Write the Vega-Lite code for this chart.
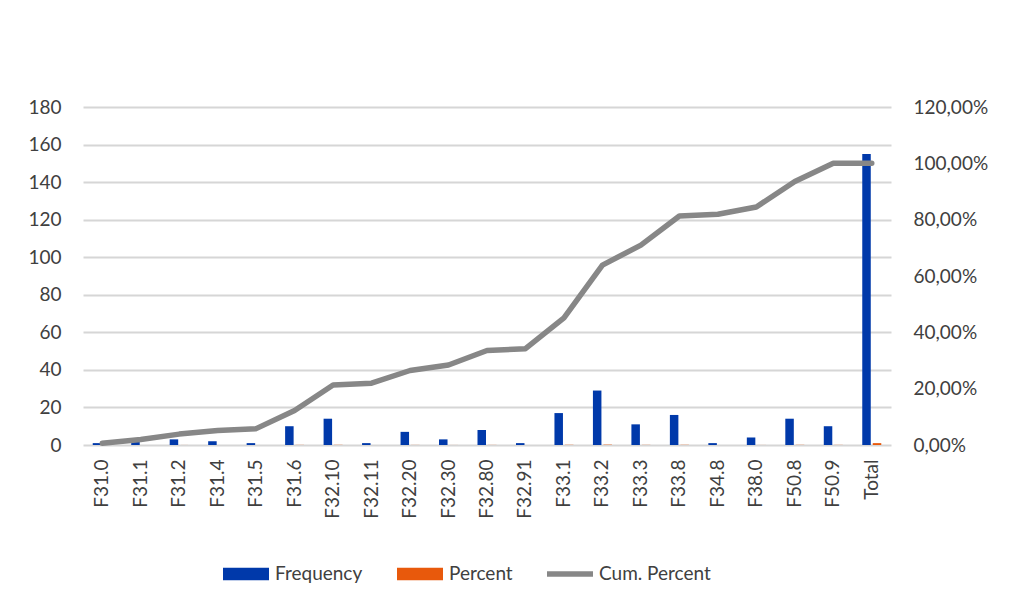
{
  "$schema": "https://vega.github.io/schema/vega-lite/v6.json",
  "width": 808,
  "height": 338,
  "autosize": "none",
  "padding": {"left": 83, "top": 107, "right": 133, "bottom": 171},
  "background": "white",
  "config": {
    "view": {"stroke": null},
    "font": "Lato",
    "axis": {"labelFont": "Lato", "labelColor": "#404040", "domain": false, "ticks": false}
  },
  "data": {
    "values": [
      {"code": "F31.0", "Frequency": 1, "Percent": 0.0065, "CumPercent": 0.0065},
      {"code": "F31.1", "Frequency": 2, "Percent": 0.0129, "CumPercent": 0.0194},
      {"code": "F31.2", "Frequency": 3, "Percent": 0.0194, "CumPercent": 0.0387},
      {"code": "F31.4", "Frequency": 2, "Percent": 0.0129, "CumPercent": 0.0516},
      {"code": "F31.5", "Frequency": 1, "Percent": 0.0065, "CumPercent": 0.0581},
      {"code": "F31.6", "Frequency": 10, "Percent": 0.0645, "CumPercent": 0.1226},
      {"code": "F32.10", "Frequency": 14, "Percent": 0.0903, "CumPercent": 0.2129},
      {"code": "F32.11", "Frequency": 1, "Percent": 0.0065, "CumPercent": 0.2194},
      {"code": "F32.20", "Frequency": 7, "Percent": 0.0452, "CumPercent": 0.2645},
      {"code": "F32.30", "Frequency": 3, "Percent": 0.0194, "CumPercent": 0.2839},
      {"code": "F32.80", "Frequency": 8, "Percent": 0.0516, "CumPercent": 0.3355},
      {"code": "F32.91", "Frequency": 1, "Percent": 0.0065, "CumPercent": 0.3419},
      {"code": "F33.1", "Frequency": 17, "Percent": 0.1097, "CumPercent": 0.4516},
      {"code": "F33.2", "Frequency": 29, "Percent": 0.1871, "CumPercent": 0.6387},
      {"code": "F33.3", "Frequency": 11, "Percent": 0.0710, "CumPercent": 0.7097},
      {"code": "F33.8", "Frequency": 16, "Percent": 0.1032, "CumPercent": 0.8129},
      {"code": "F34.8", "Frequency": 1, "Percent": 0.0065, "CumPercent": 0.8194},
      {"code": "F38.0", "Frequency": 4, "Percent": 0.0258, "CumPercent": 0.8452},
      {"code": "F50.8", "Frequency": 14, "Percent": 0.0903, "CumPercent": 0.9355},
      {"code": "F50.9", "Frequency": 10, "Percent": 0.0645, "CumPercent": 1.0},
      {"code": "Total", "Frequency": 155, "Percent": 1.0, "CumPercent": 1.0}
    ]
  },
  "layer": [
    {
      "transform": [{"fold": ["Frequency", "Percent"], "as": ["series", "value"]}],
      "mark": {"type": "bar"},
      "encoding": {
        "x": {
          "field": "code", "type": "nominal", "sort": null,
          "scale": {"paddingInner": 0.506, "paddingOuter": 0.253},
          "axis": {"title": null, "labelAngle": -90, "labelFontSize": 19, "labelPadding": 14, "grid": false}
        },
        "xOffset": {"field": "series", "type": "nominal", "sort": ["Frequency", "Percent"], "scale": {"paddingInner": 0.19, "paddingOuter": 0}},
        "y": {
          "field": "value", "type": "quantitative",
          "scale": {"domain": [0, 180], "nice": false},
          "axis": {"title": null, "values": [0, 20, 40, 60, 80, 100, 120, 140, 160, 180], "labelFontSize": 19, "labelPadding": 22, "grid": true, "gridColor": "#d6d6d6", "gridWidth": 1.8}
        },
        "color": {
          "field": "series", "type": "nominal",
          "scale": {"domain": ["Frequency", "Percent", "Cum. Percent"], "range": ["#0039AA", "#E8590C", "#878787"]},
          "legend": {
            "title": null, "orient": "none", "legendX": 140, "legendY": 444, "direction": "horizontal",
            "labelFont": "Lato", "labelFontSize": 19, "labelColor": "#404040",
            "symbolSize": 2116, "labelOffset": 6, "columnPadding": 34,
            "encode": {
              "symbols": {
                "update": {
                  "shape": {"signal": "datum.value === 'Cum. Percent' ? 'M-1,-0.12H1V0.12H-1Z' : 'M-1,-0.27H1V0.27H-1Z'"},
                  "fill": {"scale": "color", "field": "value"},
                  "strokeWidth": {"value": 0},
                  "opacity": {"value": 1}
                }
              }
            }
          }
        }
      }
    },
    {
      "mark": {"type": "line", "strokeWidth": 5.5, "strokeCap": "round", "strokeJoin": "round"},
      "encoding": {
        "x": {"field": "code", "type": "nominal", "sort": null},
        "y": {
          "field": "CumPercent", "type": "quantitative",
          "scale": {"domain": [0, 1.2], "nice": false},
          "axis": {"title": null, "orient": "right", "values": [0, 0.2, 0.4, 0.6, 0.8, 1.0, 1.2], "labelExpr": "replace(format(datum.value, '.2%'), '.', ',')", "labelFontSize": 19, "labelPadding": 22, "grid": false}
        },
        "color": {"datum": "Cum. Percent"}
      }
    }
  ],
  "resolve": {"scale": {"y": "independent"}}
}
